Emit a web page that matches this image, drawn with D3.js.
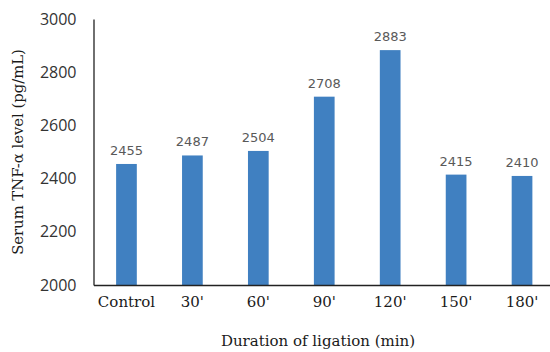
<!DOCTYPE html>
<html>
<head>
<meta charset="utf-8">
<script src="https://cdn.jsdelivr.net/npm/d3@7"></script>
<style>
  html, body { margin: 0; padding: 0; background: #fff; }
  svg { display: block; }
</style>
</head>
<body>
<svg id="chart" width="550" height="352"></svg>
<script>
// Serum TNF-α level by duration of ligation
const categories = ["Control", "30'", "60'", "90'", "120'", "150'", "180'"];
const values = [2455, 2487, 2504, 2708, 2883, 2415, 2410];
const yTicks = [2000, 2200, 2400, 2600, 2800, 3000];
const yDomain = [2000, 3000];

const svg = d3.select("#chart");
const plot = { left: 93.5, right: 555, top: 19, bottom: 285 };

const x = d3.scaleBand()
  .domain(categories)
  .range([plot.left, plot.right])
  .paddingInner(0.686)
  .paddingOuter(0.343);

const y = d3.scaleLinear().domain(yDomain).range([plot.bottom, plot.top]);

// bars
svg.append("g").selectAll("rect")
  .data(values)
  .join("rect")
  .attr("x", (d, i) => x(categories[i]))
  .attr("width", x.bandwidth())
  .attr("y", d => y(d))
  .attr("height", d => y(yDomain[0]) - y(d))
  .attr("fill", "#4080c1");

// value labels
svg.append("g").selectAll("text")
  .data(values)
  .join("text")
  .attr("x", (d, i) => x(categories[i]) + x.bandwidth() / 2)
  .attr("y", d => y(d) - 9)
  .attr("text-anchor", "middle")
  .attr("font-family", "DejaVu Sans, sans-serif")
  .attr("font-size", 13)
  .attr("fill", "#595959")
  .text(d => d);

// y axis
const yAxis = d3.axisLeft(y).tickValues(yTicks).tickSize(0).tickPadding(17).tickFormat(d3.format("d"));
const gy = svg.append("g").attr("transform", `translate(${plot.left},0)`).call(yAxis);
gy.select(".domain").attr("stroke", "#222").attr("stroke-width", 1.3);
gy.selectAll("text")
  .attr("font-family", "Open Sans, sans-serif")
  .attr("font-size", 16)
  .attr("fill", "#333");

// x axis
const xAxis = d3.axisBottom(x).tickSize(0).tickPadding(11);
const gx = svg.append("g").attr("transform", `translate(0,${plot.bottom})`).call(xAxis);
gx.select(".domain").attr("stroke", "#222").attr("stroke-width", 1.3);
gx.selectAll("text")
  .attr("font-family", "DejaVu Serif, serif")
  .attr("font-size", 15)
  .attr("fill", "#1a1a1a");

// axis titles
svg.append("text")
  .attr("x", 318)
  .attr("y", 346)
  .attr("text-anchor", "middle")
  .attr("font-family", "DejaVu Serif, serif")
  .attr("font-size", 15)
  .attr("fill", "#1a1a1a")
  .text("Duration of ligation (min)");

svg.append("text")
  .attr("transform", "translate(23,152) rotate(-90)")
  .attr("text-anchor", "middle")
  .attr("font-family", "DejaVu Serif, serif")
  .attr("font-size", 14.8)
  .attr("fill", "#1a1a1a")
  .text("Serum TNF-α level (pg/mL)");
</script>
</body>
</html>
